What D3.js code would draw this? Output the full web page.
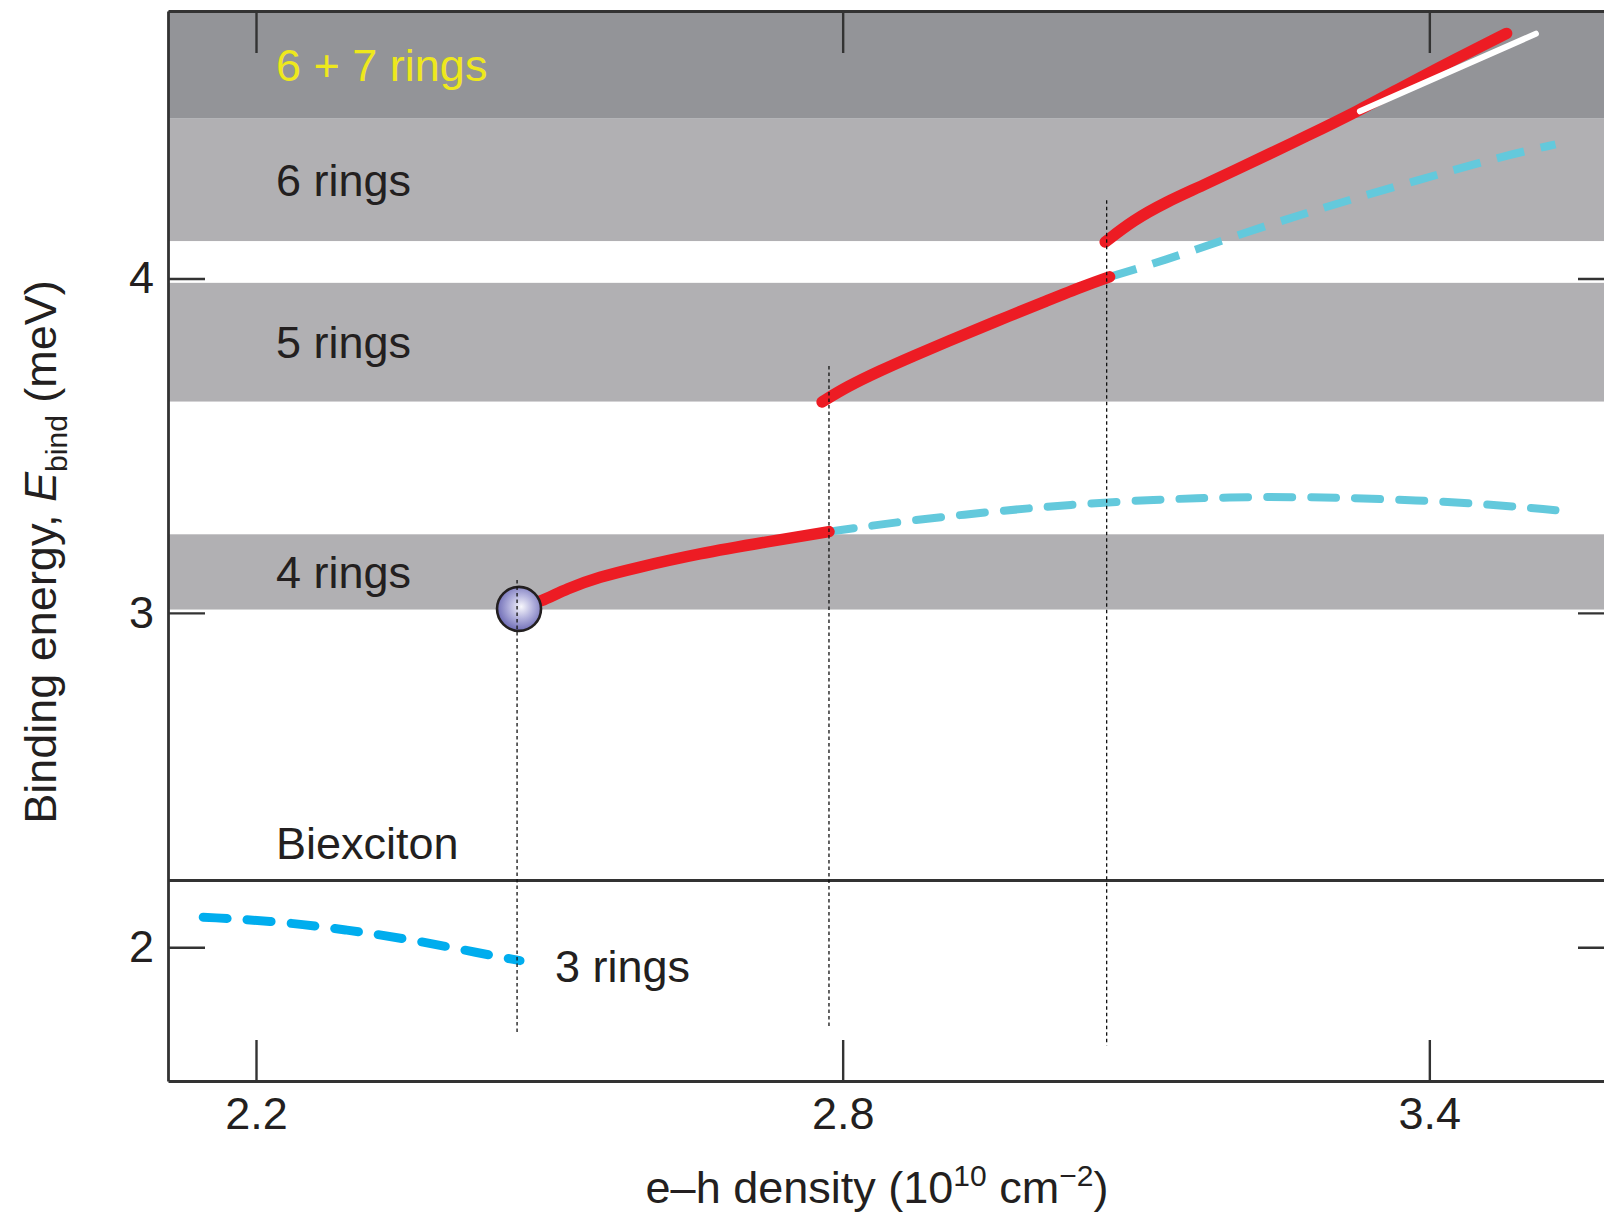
<!DOCTYPE html>
<html>
<head>
<meta charset="utf-8">
<script src="https://cdn.jsdelivr.net/npm/d3@7"></script>
<style>
  html, body { margin: 0; padding: 0; background: #fff; }
  svg { display: block; }
  text { font-family: "Liberation Sans", Arial, Helvetica, sans-serif; }
</style>
</head>
<body>
<svg id="chart" width="1604" height="1212"></svg>
<script>
// ---- Ring phases: binding-energy ranges (meV) ----
const bandNames = ["6 + 7 rings", "6 rings", "5 rings", "4 rings"];
const bandLow   = [4.478, 4.112, 3.632, 3.010];
const bandHigh  = [4.80, 4.478, 3.987, 3.235];
const bandFills = ["#939498", "#b1b0b3", "#b1b0b3", "#b1b0b3"];
const bandTextColors = ["#eee81c", "#231f20", "#231f20", "#231f20"];

const biexcitonLevel = 2.2;

// ---- Axis ticks ----
const xTicks = [2.2, 2.8, 3.4];
const yTicks = [2, 3, 4];

// ---- Binding energy vs e-h density (10^10 cm^-2) ----
// 4-ring ground state (red) and its metastable continuation (cyan)
const red4X  = [2.467, 2.491, 2.518, 2.552, 2.586, 2.654, 2.722, 2.786];
const red4Y  = [3.012, 3.033, 3.073, 3.108, 3.133, 3.178, 3.212, 3.243];
const cyan4X = [2.786, 2.859, 2.949, 3.033, 3.12, 3.194, 3.278, 3.363, 3.452, 3.529];
const cyan4Y = [3.243, 3.273, 3.302, 3.324, 3.339, 3.346, 3.347, 3.34, 3.327, 3.307];
// 5-ring state
const red5X  = [2.779, 2.804, 2.838, 2.872, 2.906, 2.955, 3.012, 3.046, 3.073];
const red5Y  = [3.631, 3.676, 3.724, 3.768, 3.810, 3.870, 3.937, 3.977, 4.005];
const cyan5X = [3.073, 3.125, 3.213, 3.299, 3.385, 3.472, 3.529];
const cyan5Y = [4.005, 4.05, 4.139, 4.219, 4.291, 4.364, 4.401];
// 6-ring state and the 6 + 7 ring branch
const red6X   = [3.0685, 3.097, 3.131, 3.1655, 3.246, 3.2675, 3.329, 3.37, 3.421, 3.479];
const red6Y   = [4.109, 4.174, 4.229, 4.274, 4.386, 4.416, 4.504, 4.569, 4.648, 4.733];
const white7X = [3.329, 3.509];
const white7Y = [4.50, 4.732];
// 3-ring state
const cyan3X = [2.146, 2.225, 2.293, 2.361, 2.429, 2.47];
const cyan3Y = [2.09, 2.077, 2.052, 2.022, 1.982, 1.96];

// Onset of crystallisation
const onsetDensity = 2.469;
const onsetEnergy  = 3.012;

// Phase transitions (vertical dotted markers)
const transitionDensity = [2.467, 2.786, 3.07];
const transitionTop     = [3.098, 3.738, 4.234];
const transitionBottom  = [1.743, 1.759, 1.706];

// ---- Layout ----
const FONT = 45;
const textColor = "#231f20";
const axisColor = "#333333";

const svg = d3.select("#chart");
const x = d3.scaleLinear().domain([2.11, 3.595]).range([168, 1620]);
const y = d3.scaleLinear().domain([1.6, 4.8]).range([1081, 11]);
const [x0, x1] = x.range();

const defs = svg.append("defs");
const grad = defs.append("radialGradient").attr("id", "ballFill")
  .attr("cx", "55%").attr("cy", "45%").attr("r", "60%");
grad.append("stop").attr("offset", "0%").attr("stop-color", "#f7f7fc");
grad.append("stop").attr("offset", "45%").attr("stop-color", "#b3b2dd");
grad.append("stop").attr("offset", "100%").attr("stop-color", "#6462b0");

// Bands
const bands = bandNames.map((name, i) => ({
  name, lo: bandLow[i], hi: bandHigh[i], fill: bandFills[i], color: bandTextColors[i]
}));
svg.append("g").selectAll("rect").data(bands).join("rect")
  .attr("x", x0).attr("width", x1 - x0)
  .attr("y", d => y(d.hi)).attr("height", d => y(d.lo) - y(d.hi))
  .attr("fill", d => d.fill);

// Biexciton level
svg.append("line")
  .attr("x1", x0).attr("x2", x1)
  .attr("y1", y(biexcitonLevel)).attr("y2", y(biexcitonLevel))
  .attr("stroke", axisColor).attr("stroke-width", 3);

// Axes
function styleAxis(g) {
  g.attr("font-size", FONT).attr("font-family", "'Liberation Sans', Arial, sans-serif");
  g.select(".domain").attr("stroke", axisColor).attr("stroke-width", 2.8);
  g.selectAll(".tick line").attr("stroke", axisColor).attr("stroke-width", 2.4);
  g.selectAll(".tick text").attr("fill", textColor);
}
svg.append("g").attr("transform", `translate(0,${y.range()[0]})`)
  .call(d3.axisBottom(x).tickValues(xTicks).tickFormat(d3.format(".1f"))
    .tickSizeInner(-41).tickSizeOuter(0).tickPadding(16))
  .call(styleAxis);
svg.append("g").attr("transform", `translate(0,${y.range()[1]})`)
  .call(d3.axisTop(x).tickValues(xTicks).tickFormat("")
    .tickSizeInner(-42).tickSizeOuter(0))
  .call(styleAxis);
svg.append("g").attr("transform", `translate(${x0},0)`)
  .call(d3.axisLeft(y).tickValues(yTicks).tickFormat(d3.format("d"))
    .tickSizeInner(-37).tickSizeOuter(0).tickPadding(14))
  .call(styleAxis);
svg.append("g").attr("transform", `translate(${x1},0)`)
  .call(d3.axisRight(y).tickValues(yTicks).tickFormat("")
    .tickSizeInner(-42).tickSizeOuter(0))
  .call(styleAxis);

// Curves
const zip = (xs, ys) => xs.map((v, i) => [v, ys[i]]);
const smooth = d3.line().x(d => x(d[0])).y(d => y(d[1])).curve(d3.curveBasis);
const straight = d3.line().x(d => x(d[0])).y(d => y(d[1]));

function curve(pts, gen, stroke, width, dash, cap) {
  svg.append("path").attr("d", gen(pts))
    .attr("fill", "none").attr("stroke", stroke).attr("stroke-width", width)
    .attr("stroke-linecap", cap).attr("stroke-linejoin", "round")
    .attr("stroke-dasharray", dash);
}
curve(zip(cyan4X, cyan4Y), smooth, "#63c9dc", 8, "25,19", "round");
curve(zip(cyan5X, cyan5Y), smooth, "#63c9dc", 8, "28,17", "butt");
curve(zip(cyan3X, cyan3Y), smooth, "#00adee", 9, "24,20", "round");
curve(zip(red4X, red4Y), smooth, "#ed1c24", 11.5, null, "round");
curve(zip(red5X, red5Y), smooth, "#ed1c24", 11.5, null, "round");
curve(zip(red6X, red6Y), smooth, "#ed1c24", 11.5, null, "round");
curve(zip(white7X, white7Y), straight, "#ffffff", 6, null, "round");

// Onset marker
svg.append("circle")
  .attr("cx", x(onsetDensity)).attr("cy", y(onsetEnergy)).attr("r", 22)
  .attr("fill", "url(#ballFill)").attr("stroke", "#231f20").attr("stroke-width", 2.6);

// Transition markers
svg.append("g").selectAll("line")
  .data(transitionDensity.map((d, i) => ({ d, top: transitionTop[i], bottom: transitionBottom[i] })))
  .join("line")
  .attr("x1", d => x(d.d)).attr("x2", d => x(d.d))
  .attr("y1", d => y(d.top)).attr("y2", d => y(d.bottom))
  .attr("stroke", "#111").attr("stroke-width", 1.3).attr("stroke-dasharray", "3.5,3");

// Band labels
const labelX = 276;
svg.append("g").selectAll("text").data(bands).join("text")
  .attr("x", labelX).attr("y", d => y((d.lo + d.hi) / 2))
  .attr("dy", "0.36em")
  .attr("font-size", FONT).attr("fill", d => d.color)
  .text(d => d.name);

svg.append("text").attr("x", labelX).attr("y", y(2.312)).attr("dy", "0.36em")
  .attr("font-size", FONT).attr("fill", textColor).text("Biexciton");
svg.append("text").attr("x", 555).attr("y", y(1.944)).attr("dy", "0.36em")
  .attr("font-size", FONT).attr("fill", textColor).text("3 rings");

// Axis titles
const xt = svg.append("text").attr("x", 877).attr("y", 1203)
  .attr("text-anchor", "middle").attr("font-size", FONT).attr("fill", textColor);
xt.append("tspan").text("e\u2013h density (10");
xt.append("tspan").attr("font-size", 30).attr("dy", -17).text("10");
xt.append("tspan").attr("dy", 17).text(" cm");
xt.append("tspan").attr("font-size", 30).attr("dy", -17).text("\u22122");
xt.append("tspan").attr("dy", 17).text(")");

const yt = svg.append("text").attr("transform", "translate(56,552) rotate(-90)")
  .attr("text-anchor", "middle").attr("font-size", FONT).attr("fill", textColor);
yt.append("tspan").text("Binding energy, ");
yt.append("tspan").attr("font-style", "italic").text("E");
yt.append("tspan").attr("font-size", 30).attr("dy", 11).text("bind");
yt.append("tspan").attr("dy", -11).text(" (meV)");
</script>
</body>
</html>
